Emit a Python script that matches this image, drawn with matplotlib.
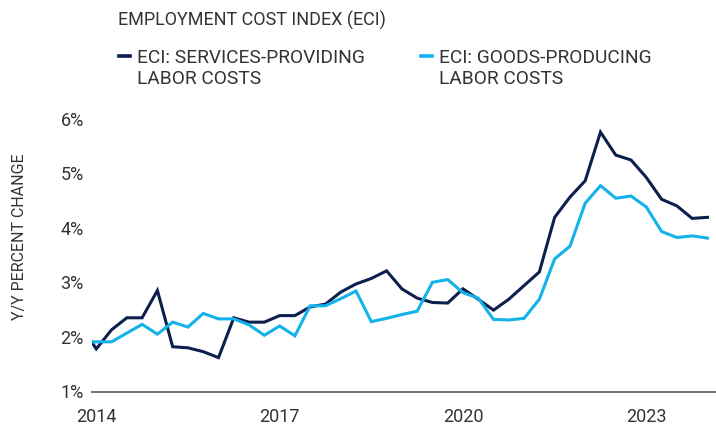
import matplotlib
matplotlib.use("Agg")
import matplotlib.pyplot as plt
from matplotlib.lines import Line2D

# quarterly ECI, y/y % change, 2013Q4 .. 2024Q1
start_year = 2013.75
services = [2.20, 1.78, 2.13, 2.35, 2.35, 2.85, 1.82, 1.80, 1.73, 1.62,
            2.35, 2.27, 2.27, 2.39, 2.39, 2.55, 2.60, 2.82, 2.97, 3.07,
            3.21, 2.88, 2.71, 2.63, 2.62, 2.88, 2.69, 2.49, 2.69, 2.94,
            3.19, 4.19, 4.56, 4.86, 5.75, 5.33, 5.24, 4.92, 4.52, 4.40,
            4.17, 4.19]
goods = [1.91, 1.91, 1.91, 2.07, 2.23, 2.05, 2.27, 2.18, 2.43, 2.33,
         2.33, 2.22, 2.03, 2.20, 2.02, 2.57, 2.57, 2.70, 2.84, 2.28,
         2.34, 2.41, 2.47, 3.00, 3.05, 2.81, 2.71, 2.32, 2.31, 2.34,
         2.69, 3.43, 3.66, 4.45, 4.77, 4.54, 4.58, 4.38, 3.93, 3.82,
         3.85, 3.81]
x_ticks = [2014, 2017, 2020, 2023]
y_ticks = [1, 2, 3, 4, 5, 6]

DARK = "#0c1f4d"
LIGHT = "#12b2ea"
TXT = "#333333"
plt.rcParams['font.family'] = ['Roboto', 'DejaVu Sans']

x = [start_year + 0.25*i for i in range(len(services))]

W, H = 716, 428
fig = plt.figure(figsize=(W/100, H/100), dpi=100)
ax = fig.add_axes([92/W, 1 - 391.5/H, (W-92)/W, (391.5-116)/H])

ax.plot(x, services, color=DARK, lw=2.2, solid_joinstyle='miter')
ax.plot(x, goods, color=LIGHT, lw=2.2, solid_joinstyle='miter')

ax.set_xlim(2013.93, 2024.14)
ax.set_ylim(1, 6 + 2.5/54.6)
ax.set_xticks(x_ticks)
ax.set_xticklabels([str(t) for t in x_ticks])
ax.set_yticks(y_ticks)
ax.set_yticklabels(["%d%%" % t for t in y_ticks])
ax.tick_params(length=0, labelsize=13, colors=TXT)
ax.tick_params(axis='y', pad=6)
ax.tick_params(axis='x', pad=12)
for s in ['top', 'right', 'left']:
    ax.spines[s].set_visible(False)
ax.spines['bottom'].set_color('#666666')
ax.spines['bottom'].set_linewidth(1.3)

fig.text(20/W, 1 - 237/H, "Y/Y PERCENT CHANGE", rotation=90, ha='center',
         va='center', fontsize=11.5, color=TXT)

fig.text(118/W, 1 - 20/H, "EMPLOYMENT COST INDEX (ECI)", ha='left',
         va='center', fontsize=13, color=TXT)

# legend
for x0, col, lines in [(119, DARK, "ECI: SERVICES-PROVIDING\nLABOR COSTS"),
                      (421, LIGHT, "ECI: GOODS-PRODUCING\nLABOR COSTS")]:
    fig.add_artist(Line2D([x0/W, (x0+11)/W], [1 - 56/H, 1 - 56/H],
                          color=col, lw=2.6, transform=fig.transFigure))
    fig.text((x0+18)/W, 1 - 68.5/H, lines, ha='left', va='center',
             fontsize=13.8, color=TXT, linespacing=1.28)

fig.savefig("out.png", dpi=100)
